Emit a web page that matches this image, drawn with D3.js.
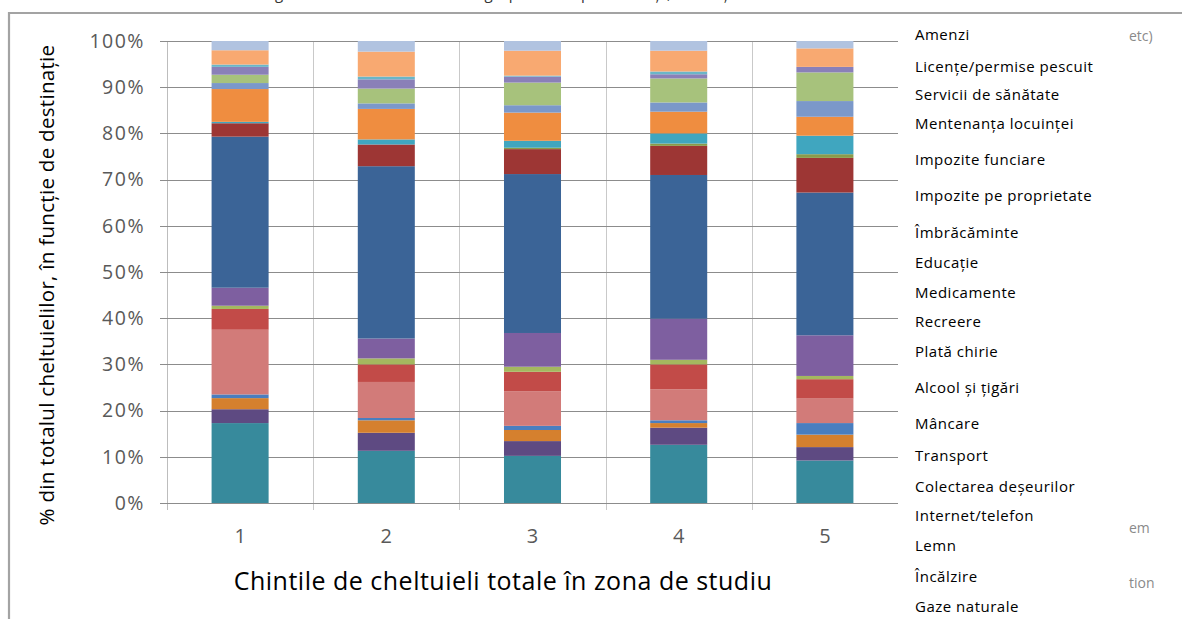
<!DOCTYPE html>
<html>
<head>
<meta charset="utf-8">
<script src="https://cdn.jsdelivr.net/npm/d3@7"></script>
<style>
  html, body { margin: 0; padding: 0; background: #fff; }
  svg { display: block; font-family: "Open Sans", "Noto Sans", sans-serif; }
</style>
</head>
<body>
<svg id="chart" width="1182" height="619"></svg>
<script>
// Expenditure quintiles (x categories)
const quintiles = ["1", "2", "3", "4", "5"];

// Spending destinations, listed as in the legend (top of the stack first)
const categories = [
  "Amenzi",
  "Licențe/permise pescuit",
  "Servicii de sănătate",
  "Mentenanța locuinței",
  "Impozite funciare",
  "Impozite pe proprietate",
  "Îmbrăcăminte",
  "Educație",
  "Medicamente",
  "Recreere",
  "Plată chirie",
  "Alcool și țigări",
  "Mâncare",
  "Transport",
  "Colectarea deșeurilor",
  "Internet/telefon",
  "Lemn",
  "Încălzire",
  "Gaze naturale"
];

// Fill colour of each destination, same order as categories
const categoryColors = [
  "#B1C3E0", "#F8A971", "#6AB6C8", "#8A80B8", "#A7C27C", "#7B98C9",
  "#EF8D40", "#40A6BF", "#8A9B4A", "#9D3634", "#3B6497", "#7E5FA0",
  "#A4B85F", "#C24B48", "#D27B79", "#4A7EBF", "#D5802E", "#5E4A82",
  "#378A9C"
];

// Share of total spending (%) per destination, one array per quintile,
// same order as categories
const q1 = [2.0, 3.1, 0.5, 1.7, 1.8, 1.3, 7.1, 0.3, 0.0, 2.9, 32.7, 3.9, 0.7, 4.5, 14.0, 0.8, 2.4, 3.0, 17.3];
const q2 = [2.3, 5.4, 0.6, 2.0, 3.2, 1.2, 6.6, 1.1, 0.0, 4.7, 37.3, 4.3, 1.3, 3.8, 7.8, 0.5, 2.7, 3.9, 11.3];
const q3 = [2.1, 5.4, 0.2, 1.3, 4.9, 1.6, 6.1, 1.5, 0.3, 5.4, 34.4, 7.3, 1.1, 4.2, 7.5, 0.9, 2.4, 3.2, 10.2];
const q4 = [2.1, 4.5, 0.6, 0.9, 5.2, 2.0, 4.7, 2.2, 0.5, 6.3, 31.1, 8.9, 1.0, 5.4, 6.7, 0.6, 1.0, 3.7, 12.6];
const q5 = [1.6, 4.0, 0.0, 1.2, 6.2, 3.4, 4.1, 4.0, 0.8, 7.5, 30.9, 8.8, 0.7, 4.2, 5.3, 2.5, 2.7, 2.9, 9.2];
const quintileShares = [q1, q2, q3, q4, q5];

// Y tick values (fraction of total)
const yTicks = [0, 0.1, 0.2, 0.3, 0.4, 0.5, 0.6, 0.7, 0.8, 0.9, 1.0];

const titleText = "Figura 4: Ponderea cheltuielilor gospodăriilor pe destinații, în funcție de chintilele de cheltuieli totale";
const yTitle = "% din totalul cheltuielilor, în funcție de destinație";
const xTitle = "Chintile de cheltuieli totale în zona de studiu";
// Trailing pieces of the wider legend text showing at the right edge
const legendTails = ["etc)", "em", "tion"];

// ---- layout constants ----
const plot = { left: 167, right: 898, top: 41, bottom: 503 };
// vertical centre of each legend row, in pixels
const legendRowY = [35, 67, 95, 124, 160, 196, 233, 263, 293, 322, 352, 388, 424, 456, 487, 516, 546, 577, 607];
const legendTailY = [36, 528, 583];

const svg = d3.select("#chart");
svg.append("rect").attr("width", 1182).attr("height", 619).attr("fill", "#fff");

// chart frame (top and left edges)
svg.append("path")
  .attr("d", "M9,619 V13 H1182")
  .attr("fill", "none")
  .attr("stroke", "#a3a3a3")
  .attr("stroke-width", 2.2);

// title line, running off the top edge
svg.append("text")
  .attr("x", 612).attr("y", -1)
  .attr("text-anchor", "middle")
  .attr("font-size", 15)
  .attr("fill", "#333")
  .text(titleText);

// ---- scales ----
const x = d3.scaleBand()
  .domain(quintiles)
  .range([plot.left, plot.right])
  .paddingInner(0.61)
  .paddingOuter(0.305);

const y = d3.scaleLinear()
  .domain([0, 1])
  .range([plot.bottom, plot.top]);

// ---- stacked data ----
const rows = quintiles.map((q, i) => {
  const row = { quintile: q };
  categories.forEach((c, j) => { row[c] = quintileShares[i][j] / 100; });
  return row;
});
const stackKeys = categories.slice().reverse(); // bottom of the stack first
const series = d3.stack().keys(stackKeys)(rows);
const color = d3.scaleOrdinal().domain(categories).range(categoryColors);

// ---- grid ----
const step = x.step();
const boundaries = quintiles.slice(1).map(q => x(q) - (step - x.bandwidth()) / 2);

svg.append("g")
  .selectAll("line")
  .data(boundaries)
  .join("line")
  .attr("x1", d => Math.round(d) + 0.5).attr("x2", d => Math.round(d) + 0.5)
  .attr("y1", plot.top).attr("y2", plot.bottom + 7)
  .attr("stroke", "#c9c9c9")
  .attr("stroke-width", 1);

// y axis line
svg.append("line")
  .attr("x1", plot.left + 0.5).attr("x2", plot.left + 0.5)
  .attr("y1", plot.top).attr("y2", plot.bottom + 7)
  .attr("stroke", "#bdbdbd");

// horizontal gridlines with left tick marks
svg.append("g")
  .selectAll("line")
  .data(yTicks)
  .join("line")
  .attr("x1", plot.left - 7).attr("x2", plot.right)
  .attr("y1", d => Math.round(y(d)) + 0.5).attr("y2", d => Math.round(y(d)) + 0.5)
  .attr("stroke", "#8c8c8c")
  .attr("stroke-width", 1);

const yAxis = d3.axisLeft(y)
  .tickValues(yTicks)
  .tickSize(0)
  .tickFormat(d3.format(".0%"));

const yAxisG = svg.append("g")
  .attr("transform", `translate(${plot.left - 19},0)`)
  .call(yAxis);
yAxisG.select(".domain").remove();
yAxisG.selectAll("text")
  .attr("font-family", "\"Open Sans\", sans-serif")
  .attr("font-size", 19.5)
  .attr("letter-spacing", 1.5)
  .attr("fill", "#595959");

// ---- bars ----
svg.append("g")
  .selectAll("g")
  .data(series)
  .join("g")
  .attr("fill", d => color(d.key))
  .selectAll("rect")
  .data(d => d)
  .join("rect")
  .attr("x", d => x(d.data.quintile))
  .attr("width", x.bandwidth())
  .attr("y", d => y(d[1]))
  .attr("height", d => Math.max(0, y(d[0]) - y(d[1])));

// ---- x axis labels ----
const xAxis = d3.axisBottom(x).tickSize(0).tickPadding(0);
const xAxisG = svg.append("g")
  .attr("transform", `translate(0,${plot.bottom + 26})`)
  .call(xAxis);
xAxisG.select(".domain").remove();
xAxisG.selectAll("text")
  .attr("font-family", "\"Open Sans\", sans-serif")
  .attr("font-size", 20)
  .attr("fill", "#595959");

// ---- axis titles ----
svg.append("text")
  .attr("transform", "translate(54,285) rotate(-90)")
  .attr("text-anchor", "middle")
  .attr("font-size", 20.5)
  .attr("letter-spacing", 0.3)
  .attr("fill", "#000")
  .text(yTitle);

svg.append("text")
  .attr("x", 503).attr("y", 590)
  .attr("text-anchor", "middle")
  .attr("font-size", 25)
  .attr("letter-spacing", 0.5)
  .attr("fill", "#000")
  .text(xTitle);

// ---- legend (labels only) ----
svg.append("g")
  .selectAll("text")
  .data(categories)
  .join("text")
  .attr("x", 915)
  .attr("y", (d, i) => legendRowY[i])
  .attr("dy", "0.35em")
  .attr("font-size", 15)
  .attr("letter-spacing", 0.5)
  .attr("fill", "#000")
  .text(d => d);

svg.append("g")
  .selectAll("text")
  .data(legendTails)
  .join("text")
  .attr("x", 1129)
  .attr("y", (d, i) => legendTailY[i])
  .attr("dy", "0.35em")
  .attr("font-size", 14)
  .attr("fill", "#8a8a8a")
  .text(d => d);
</script>
</body>
</html>
